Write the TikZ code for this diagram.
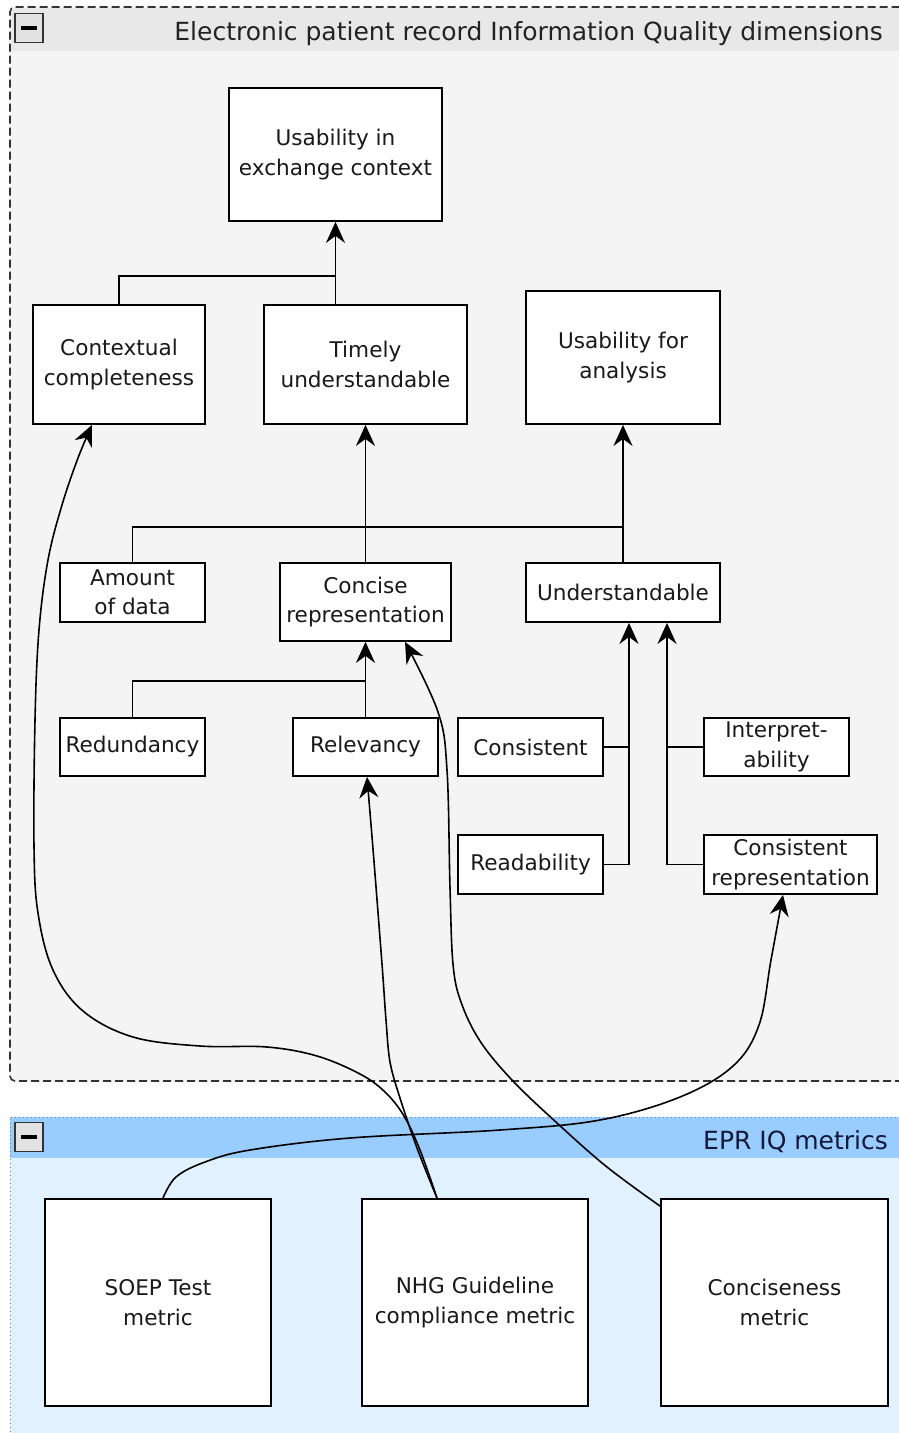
\documentclass[tikz,border=0pt]{standalone}
\usepackage{fontspec}
\setmainfont{DejaVu Sans}
\usetikzlibrary{arrows.meta}
\definecolor{grpbody}{HTML}{F4F4F4}
\definecolor{grphead}{HTML}{E8E8E8}
\definecolor{bluehead}{HTML}{99CCFF}
\definecolor{bluebody}{HTML}{E1F1FF}
\definecolor{edgegray}{HTML}{333333}
\definecolor{titlecol}{HTML}{222222}
\definecolor{navytext}{HTML}{14193A}
\definecolor{btnfill}{HTML}{E2E2E2}
\begin{document}
\begin{tikzpicture}[x=1pt,y=-1pt,
  box/.style={draw=black, fill=white, line width=1.8pt, align=center, inner sep=0pt,
    font=\fontsize{21.6}{29.5}\selectfont, text=black!90},
  link/.style={draw=black, line width=1.8pt},
  arr/.style={link, -{Stealth[length=21pt,width=19pt,inset=7pt]}},
  curvelink/.style={draw=black, line width=1.6pt, -{Stealth[length=21pt,width=19pt,inset=7pt]}},
  btn/.style={draw=edgegray, fill=btnfill, line width=1.2pt, minimum width=28pt, minimum height=29pt, inner sep=0pt},
  minusbar/.style={line width=4pt, black},
  titletext/.style={font=\fontsize{25}{30}\selectfont, inner sep=0pt}
]
\useasboundingbox (0,0) rectangle (899,1433);

% ---------- Group 1 ----------
\fill[grpbody, rounded corners=5pt] (10,7) rectangle (915,1081);
\fill[grphead] (11,8) rectangle (915,51);
\draw[edgegray, line width=1.6pt, dash pattern=on 8pt off 4pt, rounded corners=5pt]
  (915,1081) -- (10,1081) -- (10,7) -- (915,7);
\node[btn] (btn1) at (29,28) {};
\draw[minusbar] ([xshift=-8pt]btn1.center) -- ([xshift=8pt]btn1.center);
\node[titletext, text=titlecol, anchor=base east] (title1) at (883,40)
  {Electronic patient record Information Quality dimensions};

% ---------- Group 2 ----------
\fill[bluebody] (10,1117) rectangle (915,1440);
\fill[bluehead] (10,1117) rectangle (915,1158);
\draw[gray, line width=1pt, dash pattern=on 1pt off 3pt]
  (10,1440) -- (10,1117) -- (915,1117);
\node[btn] (btn2) at (29,1137) {};
\draw[minusbar] ([xshift=-8pt]btn2.center) -- ([xshift=8pt]btn2.center);
\node[titletext, text=navytext, anchor=base west] (title2) at (703,1149) {EPR IQ metrics};

% ---------- Nodes ----------
\node[box, minimum width=213pt, minimum height=133pt] (uec) at (335.5,154.5) {Usability in\\exchange context};
\node[box, minimum width=172pt, minimum height=119pt] (cc) at (119,364.5) {Contextual\\completeness};
\node[box, minimum width=203pt, minimum height=119pt] (tu) at (365.5,364.5) {Timely\\understandable};
\node[box, minimum width=194pt, minimum height=133pt] (ufa) at (623,357.5) {Usability for\\analysis};
\node[box, minimum width=145pt, minimum height=59pt] (amt) at (132.5,592.5) {Amount\\of data};
\node[box, minimum width=171pt, minimum height=78pt] (cr) at (365.5,602) {Concise\\representation};
\node[box, minimum width=194pt, minimum height=59pt] (und) at (623,592.5) {Understandable};
\node[box, minimum width=145pt, minimum height=58pt] (red) at (132.5,747) {Redundancy};
\node[box, minimum width=145pt, minimum height=58pt] (rel) at (365.5,747) {Relevancy};
\node[box, minimum width=145pt, minimum height=58pt] (cons) at (530.5,747) {Consistent};
\node[box, minimum width=145pt, minimum height=58pt] (interp) at (776.5,747) {Interpret-\\ability};
\node[box, minimum width=145pt, minimum height=59pt] (read) at (530.5,864.5) {Readability};
\node[box, minimum width=173pt, minimum height=59pt] (crep) at (790.5,864.5) {Consistent\\representation};
\node[box, minimum width=226pt, minimum height=207pt] (soep) at (158,1302.5) {SOEP Test\\metric};
\node[box, minimum width=226pt, minimum height=207pt] (nhg) at (475,1302.5) {NHG Guideline\\compliance metric};
\node[box, minimum width=227pt, minimum height=207pt] (conc) at (774.5,1302.5) {Conciseness\\metric};

% ---------- Tree connectors ----------
\coordinate (j1) at (335.5,276);
\draw[link] (cc.north) |- (j1);
\draw[arr] (tu.north -| uec.south) -- (uec.south);

\coordinate (j2) at (365.5,527);
\draw[link] (amt.north) |- (ufa.south |- j2);
\draw[arr] (cr.north) -- (tu.south);
\draw[arr] (und.north) -- (ufa.south);

\coordinate (j3) at (365.5,681);
\draw[link] (red.north) |- (j3);
\draw[arr] (rel.north) -- (cr.south);

\coordinate (ua) at ([xshift=6pt]und.south);
\coordinate (ub) at ([xshift=44pt]und.south);
\draw[link] (cons.east) -- (ua |- cons.east);
\draw[arr] (read.east) -| (ua);
\draw[link] (interp.west) -- (ub |- interp.west);
\draw[arr] (crep.west) -| (ub);

% ---------- Metric connectors ----------
\coordinate (nhgA) at ([xshift=-38pt]nhg.north);
\coordinate (ccIn) at ([xshift=-27pt]cc.south);
\coordinate (relIn) at ([xshift=1.5pt]rel.south);
\coordinate (crIn) at ([xshift=39.5pt]cr.south);
\coordinate (concA) at ([yshift=-8pt]conc.north west);
\coordinate (soepA) at ([xshift=5pt]soep.north);
\coordinate (crepIn) at ([xshift=-7.5pt]crep.south);

\draw[curvelink] plot[smooth, tension=0.6] coordinates {
  (nhgA) (420,1150) (404,1116) (385,1092) (360,1074) (317,1056) (267,1047)
  (200,1046) (133,1037) (83,1011) (53,970) (38,913) (34,846) (35,720)
  (39,630) (48,560) (62,505) (78,458) (ccIn)};
\draw[curvelink] plot[smooth, tension=0.55] coordinates {
  (nhgA) (417,1148) (400,1098) (390,1062) (386,1020) (382,964) (373,849) (relIn)};
\draw[curvelink] plot[smooth, tension=0.6] coordinates {
  (concA) (607,1167) (557,1123) (512,1080) (480,1041) (461,1002) (453,964)
  (450,888) (447,770) (438,712) (crIn)};
\draw[curvelink] plot[smooth, tension=0.6] coordinates {
  (soepA) (176,1177) (205,1162) (250,1150) (350,1138) (500,1130) (600,1120)
  (680,1097) (733,1066) (759,1025) (771,960) (crepIn)};
\end{tikzpicture}
\end{document}
